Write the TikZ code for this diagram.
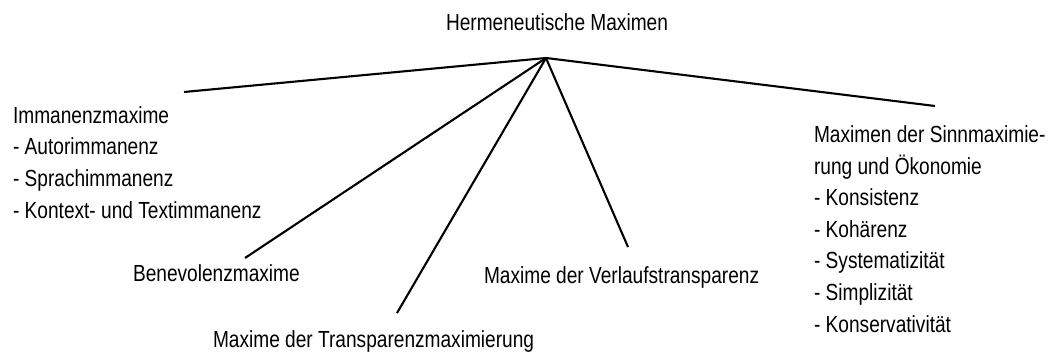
\documentclass[tikz,border=0pt]{standalone}
\usepackage{fontspec}
\setmainfont{Liberation Sans}[FakeStretch=0.82]
\newcommand\maxfont{\fontsize{23.3pt}{31.6pt}\selectfont}

\begin{document}
\begin{tikzpicture}[x=1pt,y=-1pt,line width=2.1pt,
	maxim/.style={font=\maxfont,inner sep=0pt,anchor=base west,align=left}]
	\useasboundingbox (0,0) rectangle (1054,353);
	\node (Top) [maxim,anchor=base] at (557,31) {Hermeneutische Maximen};
	\coordinate (hub) at (546,58);
	% multi-line blocks sit on the baseline of their last line
	\node (Imm) [maxim] at (12,218) {Immanenzmaxime\\- Autorimmanenz\\- Sprachimmanenz\\- Kontext- und Textimmanenz};
	\node (Bene) [maxim] at (132,281) {Benevolenzmaxime};
	\node (Trans) [maxim] at (212,347) {Maxime der Transparenzmaximierung};
	\node (Verl) [maxim] at (483,283) {Maxime der Verlaufstransparenz};
	\node (Sinn) [maxim] at (813,332) {Maximen der Sinnmaximie-\\rung und Ökonomie\\- Konsistenz\\- Kohärenz\\- Systematizität\\- Simplizität\\- Konservativität};
	% loose ends of the branches
	\coordinate (ImmEnd) at (184,92);
	\coordinate (BeneEnd) at (245,258);
	\coordinate (TransEnd) at (397,313);
	\coordinate (VerlEnd) at (628,247);
	\coordinate (SinnEnd) at (935,106);
	\foreach \e in {ImmEnd,BeneEnd,TransEnd,VerlEnd,SinnEnd}
		\draw (hub) -- (\e);
\end{tikzpicture}
\end{document}
